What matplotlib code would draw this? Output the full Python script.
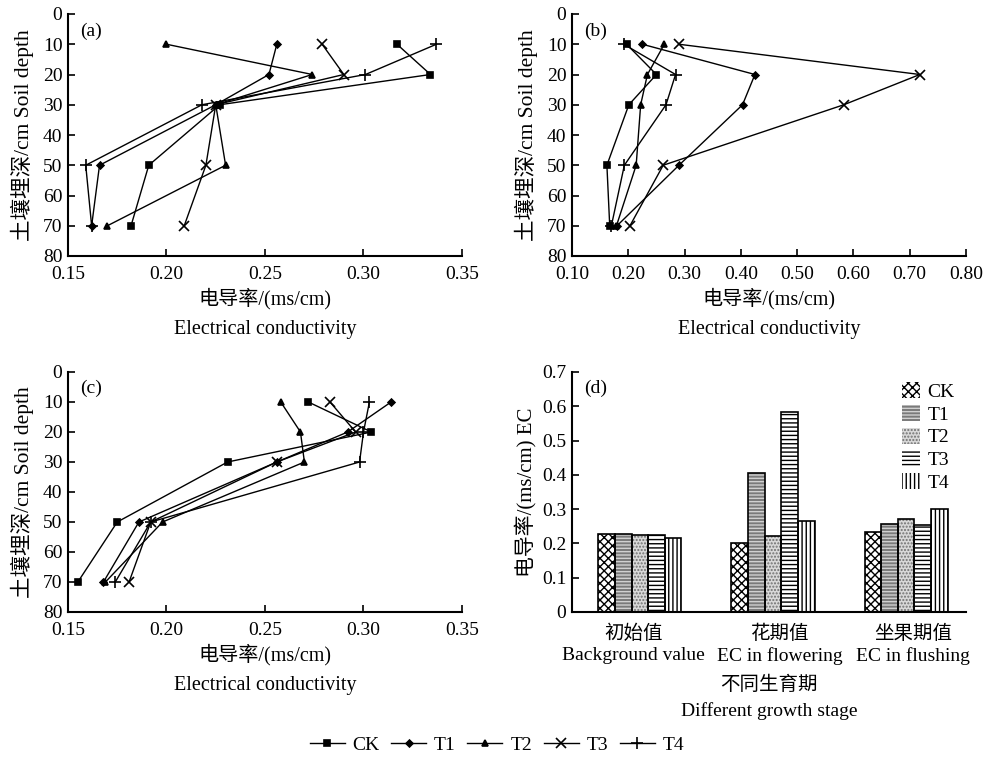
import numpy as np
import matplotlib
matplotlib.use('Agg')
import matplotlib.pyplot as plt
from matplotlib.lines import Line2D
from matplotlib.patches import Patch

plt.rcParams['font.family'] = ['Liberation Serif', 'Noto Sans CJK SC']
plt.rcParams['font.size'] = 14
plt.rcParams['hatch.linewidth'] = 1.0

# soil depth (cm)
depths = [10, 20, 30, 50, 70]
series_names = ['CK', 'T1', 'T2', 'T3', 'T4']

# (a) electrical conductivity by depth
a_ck = [0.317, 0.334, 0.227, 0.191, 0.182]
a_t1 = [0.256, 0.252, 0.225, 0.166, 0.162]
a_t2 = [0.200, 0.274, 0.225, 0.230, 0.170]
a_t3 = [0.279, 0.290, 0.225, 0.220, 0.209]
a_t4 = [0.337, 0.301, 0.218, 0.159, 0.162]

# (b)
b_ck = [0.197, 0.250, 0.201, 0.162, 0.167]
b_t1 = [0.225, 0.425, 0.403, 0.290, 0.180]
b_t2 = [0.264, 0.234, 0.222, 0.214, 0.179]
b_t3 = [0.290, 0.718, 0.583, 0.262, 0.203]
b_t4 = [0.192, 0.284, 0.267, 0.193, 0.170]

# (c)
c_ck = [0.272, 0.304, 0.231, 0.175, 0.155]
c_t1 = [0.314, 0.292, 0.256, 0.186, 0.168]
c_t2 = [0.258, 0.268, 0.270, 0.198, 0.169]
c_t3 = [0.283, 0.296, 0.256, 0.192, 0.181]
c_t4 = [0.303, 0.300, 0.298, 0.192, 0.174]

# (d) EC by growth stage
stages = ['初始值\nBackground value', '花期值\nEC in flowering', '坐果期值\nEC in flushing']
d_ck = [0.227, 0.200, 0.232]
d_t1 = [0.227, 0.404, 0.257]
d_t2 = [0.224, 0.222, 0.271]
d_t3 = [0.224, 0.582, 0.255]
d_t4 = [0.217, 0.266, 0.299]

markers = ['s', 'D', '^', 'x', '+']
msizes = [4, 3.5, 5, 6.5, 8]

W, H = 984, 758
fig = plt.figure(figsize=(W / 100, H / 100), dpi=100)


def depth_panel(rect, data, xmin, xmax, step, fmt, tag):
    ax = fig.add_axes(rect)
    for vals, m, ms in zip(data, markers, msizes):
        ax.plot(vals, depths, color='black', lw=1.0, marker=m, ms=ms,
                mew=1.2, mfc='black')
    ax.set_xlim(xmin, xmax)
    ax.set_ylim(80, 0)
    ax.set_yticks(range(0, 81, 10))
    ticks = np.arange(xmin, xmax + step / 2, step)
    ax.set_xticks(ticks)
    ax.set_xticklabels([fmt % t for t in ticks])
    for s in ['top', 'right']:
        ax.spines[s].set_visible(False)
    for s in ['left', 'bottom']:
        ax.spines[s].set_linewidth(1.5)
    ax.tick_params(direction='in', length=5, width=1.2, pad=4)
    ax.tick_params(axis='x', pad=7)
    ax.set_xlabel('电导率/(ms/cm)\nElectrical conductivity', linespacing=1.7,
                  labelpad=4, fontsize=14.5)
    ax.set_ylabel('土壤埋深/cm Soil depth', labelpad=6, fontsize=15.5)
    ax.text(0.03, 0.93, tag, transform=ax.transAxes, fontsize=14, va='center')
    return ax


depth_panel([68 / W, 1 - 256 / H, 394 / W, 242 / H],
            [a_ck, a_t1, a_t2, a_t3, a_t4], 0.15, 0.35, 0.05, '%.2f', '(a)')
depth_panel([572 / W, 1 - 256 / H, 394 / W, 242 / H],
            [b_ck, b_t1, b_t2, b_t3, b_t4], 0.10, 0.80, 0.10, '%.2f', '(b)')
depth_panel([68 / W, 1 - 612 / H, 394 / W, 240 / H],
            [c_ck, c_t1, c_t2, c_t3, c_t4], 0.15, 0.35, 0.05, '%.2f', '(c)')

# (d) bar chart
axd = fig.add_axes([572 / W, 1 - 612 / H, 394 / W, 240 / H])
bar_data = [d_ck, d_t1, d_t2, d_t3, d_t4]
faces = ['white', '#7a7a7a', '#d8d8d8', 'white', 'white']
hatch_cols = ['black', '#d0d0d0', '#707070', 'black', 'black']
hatches = ['xxxx', '-----', '.....', '----', '||||']
x = np.arange(len(stages))
bw = 0.125
handles = []
for i, vals in enumerate(bar_data):
    pos = x + (i - 2) * bw
    axd.bar(pos, vals, bw, color=faces[i], edgecolor=hatch_cols[i],
            hatch=hatches[i], lw=0, zorder=2)
    axd.bar(pos, vals, bw, fill=False, edgecolor='black', lw=1.2, zorder=3)
    handles.append(Patch(facecolor=faces[i], edgecolor=hatch_cols[i],
                         hatch=hatches[i], lw=0))
axd.set_xlim(-0.51, 2.45)
axd.set_ylim(0, 0.7)
axd.set_yticks(np.arange(0, 0.71, 0.1))
axd.set_yticklabels(['0'] + ['%.1f' % v for v in np.arange(0.1, 0.71, 0.1)])
# the stage labels sit slightly off the group centres in the original
axd.set_xticks(x + np.array([-0.05, 0.05, 0.05]))
axd.set_xticklabels(stages, linespacing=1.3)
for s in ['top', 'right']:
    axd.spines[s].set_visible(False)
for s in ['left', 'bottom']:
    axd.spines[s].set_linewidth(1.5)
axd.tick_params(direction='in', length=5, width=1.2, pad=4)
axd.tick_params(axis='x', pad=9)
axd.set_xlabel('不同生育期\nDifferent growth stage', linespacing=1.55, labelpad=8)
axd.set_ylabel('电导率/(ms/cm) EC', labelpad=4, fontsize=15)
axd.text(0.03, 0.93, '(d)', transform=axd.transAxes, fontsize=14, va='center')
axd.legend(handles, series_names, loc='upper right', bbox_to_anchor=(1.015, 1.03),
           frameon=False, handlelength=0.9, handleheight=0.9, handletextpad=0.4,
           labelspacing=0.2, fontsize=14)

# shared line legend at the bottom
line_handles = [Line2D([], [], color='black', lw=1.0, marker=m, ms=ms, mew=1.2, mfc='black')
                for m, ms in zip(markers, msizes)]
fig.legend(line_handles, series_names, loc='center', bbox_to_anchor=(0.505, 1 - 745 / H),
           ncol=5, frameon=False, handlelength=1.8, handletextpad=0.4,
           columnspacing=0.6, fontsize=14)

fig.savefig('out.png', dpi=100)
